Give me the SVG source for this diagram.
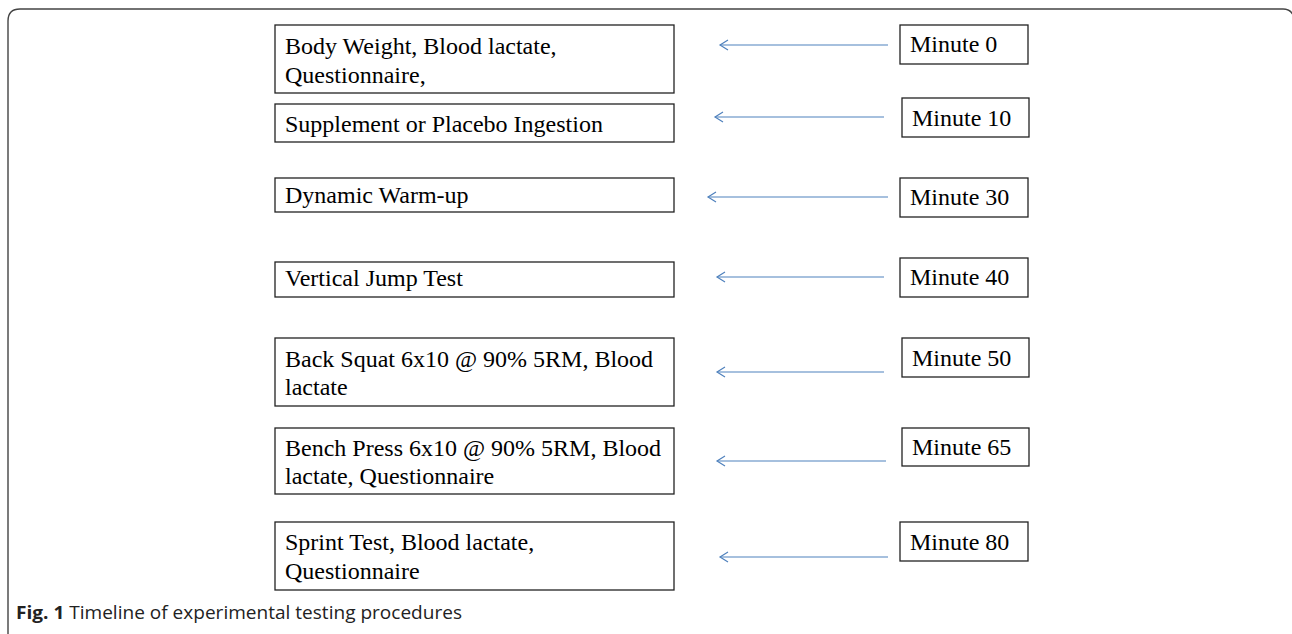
<svg xmlns="http://www.w3.org/2000/svg" width="1292" height="634" viewBox="0 0 1292 634">
<defs>
<style>
.box{fill:#fff;stroke:#222;stroke-width:1.3}
.t{font-family:"Liberation Serif","Times New Roman",serif;font-size:24px;fill:#000}
.c{stroke:#4f81bd;stroke-width:1.2;fill:none}
.cap{font-family:"Open Sans","Liberation Sans",Arial,sans-serif;font-size:18px;fill:#222}
</style>
<marker id="ah" markerWidth="12" markerHeight="12" refX="9" refY="6" orient="auto" markerUnits="userSpaceOnUse">
<path d="M1,1 L9,6 L1,11" fill="none" stroke="#4f81bd" stroke-width="1.2"/>
</marker>
</defs>
<rect width="1292" height="634" fill="#fff"/>
<path d="M8,640 L8,21 Q8,9 20,9 L1283,9 Q1292,9 1294,18" fill="none" stroke="#444" stroke-width="1.4"/>
<g id="step1"><rect class="box" x="275" y="25" width="399" height="68"/><text class="t" x="285" y="54">Body Weight, Blood lactate,</text><text class="t" x="285" y="83">Questionnaire,</text></g>
<g id="step2"><rect class="box" x="275" y="104" width="399" height="38"/><text class="t" x="285" y="132">Supplement or Placebo Ingestion</text></g>
<g id="step3"><rect class="box" x="275" y="178" width="399" height="34"/><text class="t" x="285" y="203">Dynamic Warm-up</text></g>
<g id="step4"><rect class="box" x="275" y="262" width="399" height="35"/><text class="t" x="285" y="286">Vertical Jump Test</text></g>
<g id="step5"><rect class="box" x="275" y="338" width="399" height="68"/><text class="t" x="285" y="367">Back Squat 6x10 @ 90% 5RM, Blood</text><text class="t" x="285" y="395">lactate</text></g>
<g id="step6"><rect class="box" x="275" y="428" width="399" height="66"/><text class="t" x="285" y="456">Bench Press 6x10 @ 90% 5RM, Blood</text><text class="t" x="285" y="484">lactate, Questionnaire</text></g>
<g id="step7"><rect class="box" x="275" y="522" width="399" height="68"/><text class="t" x="285" y="550">Sprint Test, Blood lactate,</text><text class="t" x="285" y="579">Questionnaire</text></g>
<g id="min0"><rect class="box" x="900" y="25" width="128" height="39"/><text class="t" x="910" y="52">Minute 0</text></g>
<g id="min10"><rect class="box" x="902" y="98" width="127" height="39"/><text class="t" x="912" y="126">Minute 10</text></g>
<g id="min30"><rect class="box" x="900" y="178" width="128" height="39"/><text class="t" x="910" y="205">Minute 30</text></g>
<g id="min40"><rect class="box" x="900" y="258" width="128" height="39"/><text class="t" x="910" y="285">Minute 40</text></g>
<g id="min50"><rect class="box" x="902" y="338" width="127" height="39"/><text class="t" x="912" y="366">Minute 50</text></g>
<g id="min65"><rect class="box" x="902" y="428" width="127" height="38"/><text class="t" x="912" y="455">Minute 65</text></g>
<g id="min80"><rect class="box" x="900" y="522" width="128" height="39"/><text class="t" x="910" y="550">Minute 80</text></g>
<g id="connectors">
<line class="c" x1="888" y1="45" x2="720" y2="45" marker-end="url(#ah)"/>
<line class="c" x1="884" y1="117" x2="715" y2="117" marker-end="url(#ah)"/>
<line class="c" x1="888" y1="197" x2="708" y2="197" marker-end="url(#ah)"/>
<line class="c" x1="884" y1="277" x2="717" y2="277" marker-end="url(#ah)"/>
<line class="c" x1="884" y1="372" x2="717" y2="372" marker-end="url(#ah)"/>
<line class="c" x1="886" y1="461" x2="717" y2="461" marker-end="url(#ah)"/>
<line class="c" x1="888" y1="557" x2="720" y2="557" marker-end="url(#ah)"/>
</g>
<text class="cap" x="16" y="619" textLength="446" lengthAdjust="spacingAndGlyphs"><tspan font-weight="bold">Fig. 1</tspan> Timeline of experimental testing procedures</text>
</svg>
